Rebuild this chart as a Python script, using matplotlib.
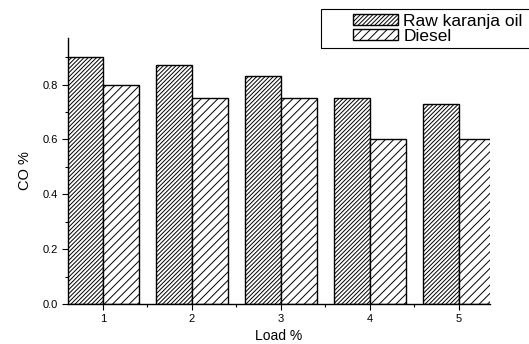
import numpy as np
import matplotlib.pyplot as plt
from matplotlib.patches import Rectangle
from matplotlib.ticker import MultipleLocator

plt.rcParams['font.family'] = ['Liberation Sans', 'DejaVu Sans']
plt.rcParams['hatch.linewidth'] = 0.7

# CO emission vs load
load = [1, 2, 3, 4, 5]
raw_karanja = [0.90, 0.87, 0.83, 0.75, 0.73]
diesel = [0.80, 0.75, 0.75, 0.60, 0.60]

fig = plt.figure(figsize=(5.29, 3.44), dpi=100)
ax = fig.add_axes([0.1285, 0.116, 0.798, 0.774])

x = np.array(load)
w = 0.4
b1 = ax.bar(x - w / 2, raw_karanja, w, facecolor='white', edgecolor='black',
            hatch='////////', linewidth=1.0, label='Raw karanja oil')
b2 = ax.bar(x + w / 2, diesel, w, facecolor='white', edgecolor='black',
            hatch='////', linewidth=1.0, label='Diesel')

ax.set_xlim(0.607, 5.35)
ax.set_ylim(0, 0.97)
ax.set_xticks(load)
ax.xaxis.set_minor_locator(MultipleLocator(0.5))
ax.yaxis.set_major_locator(MultipleLocator(0.2))
ax.yaxis.set_minor_locator(MultipleLocator(0.1))
ax.yaxis.set_major_formatter(plt.FormatStrFormatter('%.1f'))
ax.tick_params(which='major', direction='out', length=4, width=0.8, labelsize=8, pad=3)
ax.tick_params(which='minor', direction='out', length=2, width=0.8)

for s in ['top', 'right']:
    ax.spines[s].set_visible(False)
for s in ['left', 'bottom']:
    ax.spines[s].set_linewidth(1.0)

ax.set_xlabel('Load %', fontsize=10, labelpad=4)
ax.set_ylabel('CO %', fontsize=10.5, labelpad=8)

# legend frame runs off the right edge of the figure
fig.patches.append(Rectangle((321 / 529, 1 - 48 / 344), 0.5, 39 / 344,
                             transform=fig.transFigure, fill=False,
                             edgecolor='black', linewidth=0.8))
fig.legend(handles=[b1, b2], loc='upper left', bbox_to_anchor=(353 / 529, 1 - 14 / 344),
           fontsize=12.5, frameon=False, handlelength=2.6, handleheight=0.6,
           handletextpad=0.3, labelspacing=0.0, borderpad=0, borderaxespad=0)

fig.savefig('out.png', dpi=100)
